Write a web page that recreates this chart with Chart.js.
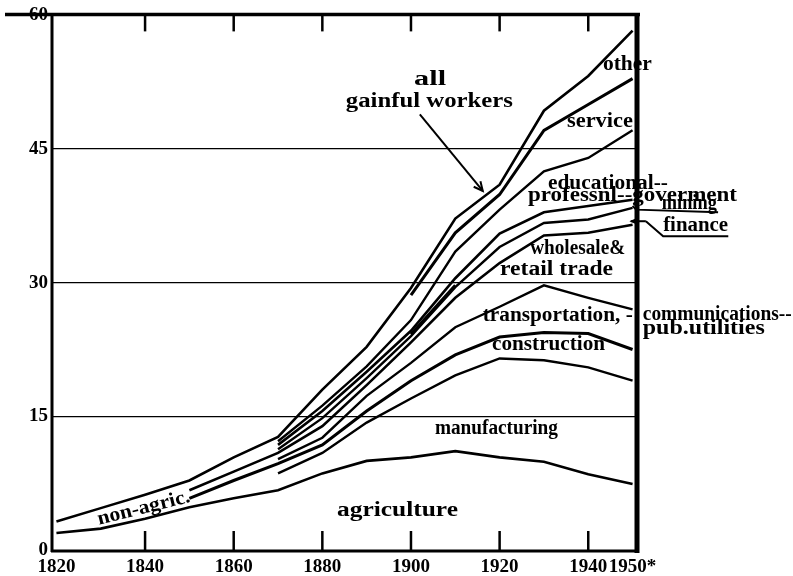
<!DOCTYPE html>
<html lang="en">
<head>
    <meta charset="UTF-8">
    <title>Gainful workers by industry, 1820-1950</title>
    <script src="https://cdn.jsdelivr.net/npm/chart.js"></script>
    <style>
        body {
            margin: 0;
            background: #fff;
        }
        #chart {
            display: block;
        }
    </style>
</head>
<body>
    <canvas id="chart" width="793" height="576"></canvas>
    <script>
        // decade values, millions of workers (cumulative lines)
        const years = [1820, 1830, 1840, 1850, 1860, 1870, 1880, 1890, 1900, 1910, 1920, 1930, 1940, 1950];
        const agriculture    = [1.9, 2.4, 3.5, 4.8, 5.8, 6.7, 8.6, 10.0, 10.4, 11.1, 10.4, 9.9, 8.5, 7.4];
        const manufacturing  = [null, null, null, null, null, 8.6, 10.9, 14.3, 17.0, 19.6, 21.5, 21.3, 20.5, 19.0];
        const construction   = [null, null, null, 5.8, 7.8, 9.7, 11.8, 15.6, 19.0, 21.9, 23.9, 24.4, 24.3, 22.5];
        const transportation = [null, null, null, null, null, 10.2, 12.6, 17.3, 21.0, 25.0, 27.3, 29.7, 28.3, 27.0];
        const wholesale      = [null, null, null, 6.7, 8.8, 10.9, 13.9, 18.5, 23.3, 28.3, 32.2, 35.3, 35.6, 36.5];
        const finance        = [null, null, null, null, null, 11.3, 14.8, 19.3, 24.0, 29.5, 34.0, 36.7, 37.1, 38.4];
        const mining         = [null, null, null, null, null, 11.8, 15.6, 20.0, 24.6, 30.5, 35.5, 37.9, 38.6, 39.3];
        const professional   = [null, null, null, null, null, 12.2, 16.2, 20.6, 25.8, 33.5, 38.2, 42.5, 44.0, 47.1];
        const shortSegment   = [null, null, null, null, null, null, null, null, 24.2, 29.7, null, null, null, null];
        const service        = [null, null, null, null, null, null, null, null, 28.6, 35.6, 39.9, 47.1, 50.0, 52.9];
        const allWorkers     = [3.2, 4.7, 6.2, 7.8, 10.4, 12.7, 18.0, 22.8, 29.4, 37.2, 41.0, 49.3, 53.2, 58.3];

        const xTicks = [1820, 1840, 1860, 1880, 1900, 1920, 1940, 1950];
        const yTicks = [0, 15, 30, 45, 60];

        // text on the plot: [text, year, value, width px, rotation deg]
        const labels = [
            ["all", 1900.7, 52.8, 32, 0],
            ["gainful workers", 1885.3, 50.3, 167, 0],
            ["other", 1943.3, 54.4, 49, 0],
            ["service", 1935.2, 48.0, 66, 0],
            ["educational--", 1930.9, 41.1, 120, 0],
            ["professnl--goverment", 1926.4, 39.7, 209, 0],
            ["mining", 1956.6, 38.8, 55, 0],
            ["finance", 1956.9, 36.4, 65, 0],
            ["wholesale&", 1926.9, 33.8, 95, 0],
            ["retail trade", 1920.1, 31.4, 113, 0],
            ["transportation, -", 1916.2, 26.3, 150, 0],
            ["communications--", 1952.3, 26.4, 149, 0],
            ["pub.utilities", 1952.3, 24.8, 122, 0],
            ["construction", 1918.3, 23.0, 113, 0],
            ["manufacturing", 1905.4, 13.6, 123, 0],
            ["agriculture", 1883.3, 4.4, 121, 0],
            ["non-agric.", 1829.3, 3.4, 95, -14]
        ];

        const series = [
            [agriculture, 2.6],
            [manufacturing, 2.4],
            [construction, 3],
            [transportation, 2.4],
            [wholesale, 2.6],
            [finance, 2.4],
            [mining, 2.6],
            [professional, 2.4],
            [shortSegment, 3],
            [service, 3],
            [allWorkers, 2.6]
        ];

        const tickFont = { family: "'Liberation Serif', serif", size: 19, weight: "bold" };

        const decor = {
            id: "decor",
            afterDraw(chart) {
                const c = chart.ctx;
                const a = chart.chartArea;
                const xs = chart.scales.x, ys = chart.scales.y;
                const P = (yr, v) => [xs.getPixelForValue(yr), ys.getPixelForValue(v)];
                c.save();
                c.strokeStyle = "#000";
                c.fillStyle = "#000";
                c.lineCap = "butt";

                const line = (pts, w) => {
                    c.lineWidth = w;
                    c.beginPath();
                    c.moveTo(pts[0][0], pts[0][1]);
                    for (let i = 1; i < pts.length; i++) c.lineTo(pts[i][0], pts[i][1]);
                    c.stroke();
                };

                // frame
                line([[5, a.top - 1], [a.right + 3, a.top - 1]], 3.5);
                line([[a.left, a.top - 2], [a.left, a.bottom + 2]], 3);
                line([[a.left - 1, a.bottom + 1], [a.right + 2, a.bottom + 1]], 3);
                line([[a.right, a.top - 2], [a.right, a.bottom + 3]], 5);

                // tick marks top and bottom
                xTicks.slice(1, -1).forEach(v => {
                    const px = xs.getPixelForValue(v);
                    line([[px, a.top], [px, a.top + 16]], 2.5);
                    line([[px, a.bottom], [px, a.bottom - 19]], 2.5);
                });

                // labels
                c.textBaseline = "middle";
                c.textAlign = "left";
                c.font = "bold 20px 'Liberation Serif', serif";
                labels.forEach(([t, yr, v, w, rot]) => {
                    const [px, py] = P(yr, v);
                    const m = c.measureText(t).width;
                    c.save();
                    c.translate(px, py);
                    c.rotate(rot * Math.PI / 180);
                    c.scale(w / m, 1);
                    c.fillText(t, 0, 0);
                    c.restore();
                });

                // arrow to all gainful workers
                const tail = P(1902.0, 48.9), tip = P(1916.2, 40.3);
                line([tail, tip], 2);
                const ang = Math.atan2(tip[1] - tail[1], tip[0] - tail[0]);
                line([
                    [tip[0] - 10 * Math.cos(ang - 0.45), tip[1] - 10 * Math.sin(ang - 0.45)],
                    tip,
                    [tip[0] - 10 * Math.cos(ang + 0.45), tip[1] - 10 * Math.sin(ang + 0.45)]
                ], 2);

                // mining and finance pointers
                line([P(1950.0, 38.6), P(1950.8, 38.2), P(1969.3, 37.9)], 2);
                line([P(1953.0, 36.9), P(1956.9, 35.2), P(1971.6, 35.2)], 2);
                line([P(1949.6, 36.9), P(1953.0, 36.9)], 2);
                const h = P(1949.3, 36.9);
                c.beginPath();
                c.moveTo(h[0], h[1]);
                c.lineTo(h[0] + 9, h[1] - 4);
                c.lineTo(h[0] + 9, h[1] + 4);
                c.closePath();
                c.fill();

                c.restore();
            }
        };

        new Chart(document.getElementById("chart"), {
            type: "line",
            data: {
                datasets: series.map(([vals, w]) => ({
                    data: years.map((yr, i) => ({ x: yr, y: vals[i] })),
                    borderColor: "#000",
                    borderWidth: w,
                    pointRadius: 0,
                    tension: 0,
                    fill: false,
                    spanGaps: false
                }))
            },
            options: {
                responsive: false,
                animation: false,
                layout: { padding: { top: 10, right: 156, left: 0, bottom: 0 } },
                plugins: { legend: { display: false }, tooltip: { enabled: false } },
                scales: {
                    x: {
                        type: "linear",
                        min: 1819,
                        max: 1951,
                        afterBuildTicks: s => { s.ticks = xTicks.map(v => ({ value: v })); },
                        afterFit: s => { s.height = 26; },
                        grid: { display: false },
                        border: { display: false },
                        ticks: {
                            color: "#000",
                            font: tickFont,
                            padding: -2,
                            maxRotation: 0,
                            autoSkip: false,
                            callback: v => v === 1950 ? "1950*" : String(v)
                        }
                    },
                    y: {
                        min: 0,
                        max: 60,
                        afterBuildTicks: s => { s.ticks = yTicks.map(v => ({ value: v })); },
                        afterFit: s => { s.width = 52; },
                        border: { display: false },
                        grid: {
                            drawTicks: false,
                            lineWidth: 1.3,
                            color: ctx => (ctx.tick && ctx.tick.value > 0 && ctx.tick.value < 60) ? "#000" : "rgba(0,0,0,0)"
                        },
                        ticks: { color: "#000", font: tickFont, padding: 4 }
                    }
                }
            },
            plugins: [decor]
        });
    </script>
</body>
</html>
